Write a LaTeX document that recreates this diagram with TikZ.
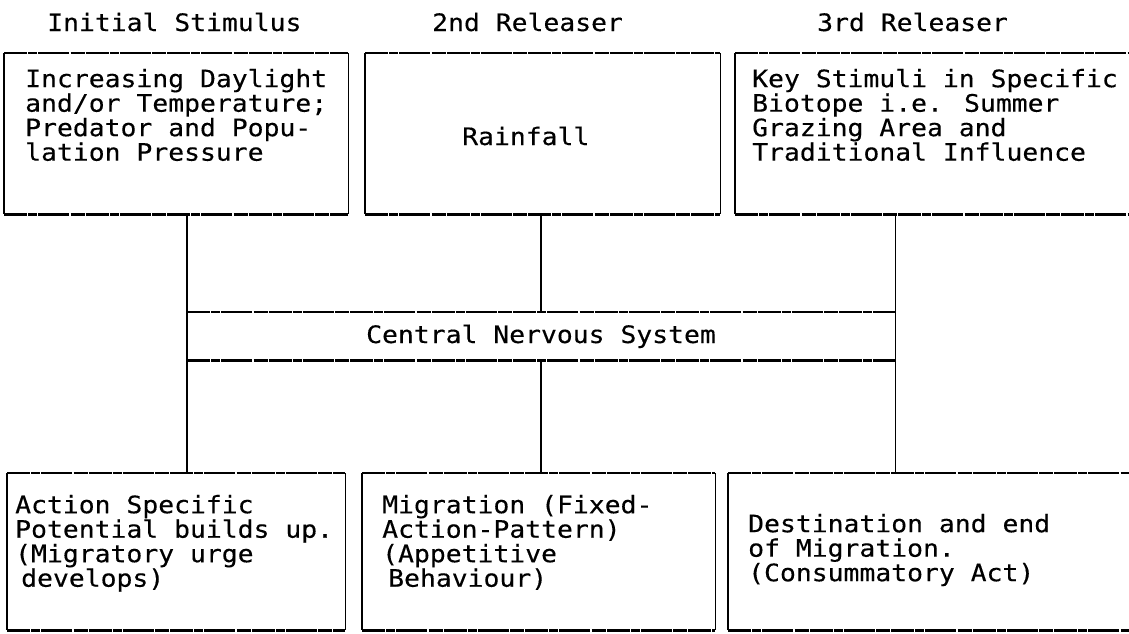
\documentclass[tikz,border=0pt]{standalone}
\usepackage{fontspec}
\newfontfamily\tw[FakeStretch=1.1,FakeBold=0.3]{DejaVu Sans Mono}
\begin{document}
\begin{tikzpicture}[x=1pt,y=-1pt,
  box/.style={inner sep=0pt, anchor=north west},
  hline/.style={line width=2.2pt, dash pattern=on 23pt off 1.2pt on 9pt off 0.8pt on 31pt off 1.5pt on 14pt off 1pt},
  vline/.style={line width=1.8pt},
  txt/.style={font=\tw\fontsize{24}{24.5}\selectfont, align=left, inner sep=0pt, anchor=north west},
  conn/.style={line width=1.8pt}]
\useasboundingbox (0,0) rectangle (1129,633);
% headers
\node[txt, anchor=base west] (h1) at (47,31) {Initial Stimulus};
\node[txt, anchor=base west] (h2) at (432,31) {2nd Releaser};
\node[txt, anchor=base west] (h3) at (817,31) {3rd Releaser};
% top boxes
\node[box, minimum width=344pt, minimum height=161pt] (b1) at (4,53) {};
\node[box, minimum width=355pt, minimum height=161pt] (b2) at (365,53) {};
\node[box, minimum width=399pt, minimum height=161pt] (b3) at (735,53) {};
\node[txt] (t1) at (25,67) {\rule{0pt}{20pt}Increasing Daylight\\and/or Temperature;\\Predator and Popu-\\lation Pressure};
\node[txt, anchor=base west] (t2) at (462,145) {Rainfall};
\node[txt] (t3) at (752,67) {\rule{0pt}{20pt}Key Stimuli in Specific\\Biotope i.e. Summer\\Grazing Area and\\Traditional Influence};
% central box
\node[box, minimum width=708pt, minimum height=48pt] (cns) at (187,312) {};
\node[txt, anchor=base] (tc) at (541,343) {Central Nervous System};
% bottom boxes
\node[box, minimum width=338pt, minimum height=157pt] (b4) at (7,473) {};
\node[box, minimum width=353pt, minimum height=157pt] (b5) at (362,473) {};
\node[box, minimum width=406pt, minimum height=157pt] (b6) at (728,473) {};
\node[txt] (t4) at (15,493) {\rule{0pt}{20pt}Action Specific\\Potential builds up.\\(Migratory urge\\\hspace*{6pt}develops)};
\node[txt] (t5) at (382,493) {\rule{0pt}{20pt}Migration (Fixed-\\Action-Pattern)\\(Appetitive\\\hspace*{6pt}Behaviour)};
\node[txt] (t6) at (748,512) {\rule{0pt}{20pt}Destination and end\\of Migration.\\(Consummatory Act)};
% box outlines: typed (rough) horizontals, solid verticals
\foreach \b in {b1,b2,b3,cns,b4,b5,b6} {
  \draw[hline] (\b.north west) -- (\b.north east);
  \draw[hline] (\b.south west) -- (\b.south east);
  \draw[vline] (\b.north west) -- (\b.south west);
  \draw[vline] (\b.north east) -- (\b.south east);
}
% connectors
\draw[conn] (b1.south -| cns.north west) -- (cns.north west);
\draw[conn] (b2.south -| cns.north) -- (cns.north);
\draw[conn] (b3.south -| cns.north east) -- (cns.north east);
\draw[conn] (cns.south west) -- (b4.north -| cns.south west);
\draw[conn] (cns.south) -- (b5.north -| cns.south);
\draw[conn] (cns.south east) -- (b6.north -| cns.south east);
\end{tikzpicture}
\end{document}
